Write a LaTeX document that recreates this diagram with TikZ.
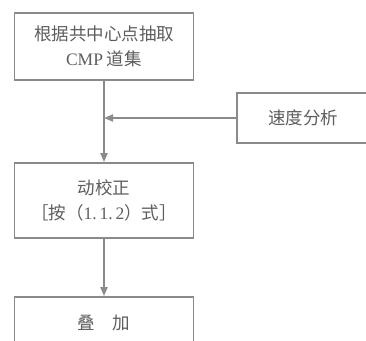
\documentclass[tikz,border=0pt]{standalone}
\usepackage{fontspec}
\setmainfont{Noto Sans CJK SC}
\newfontfamily\latserif{Liberation Serif}
\usetikzlibrary{arrows.meta}
\definecolor{linec}{HTML}{8A8A8A}
\definecolor{textc}{HTML}{5E5E5E}
\begin{document}
\begin{tikzpicture}[x=1pt,y=-1pt,
  box/.style={draw=linec,line width=1.8pt,fill=white,text=textc,align=center,
    font=\fontsize{17.5pt}{25pt}\selectfont,inner sep=0pt},
  conn/.style={draw=linec,line width=1.8pt,-{Triangle[length=9pt,width=7pt]}}]
\useasboundingbox (0,0) rectangle (366,340);
\clip (0,0) rectangle (366,340);
\fill[white] (0,0) rectangle (366,340);
\node[box,minimum width=179pt,minimum height=67pt] (cmp) at (104,46.5) {根据共中心点抽取\\{\latserif CMP} 道集};
\node[box,minimum width=132pt,minimum height=50pt] (vel) at (303,118) {速度分析};
\node[box,minimum width=179pt,minimum height=75pt] (nmo) at (104,200.5) {动校正\\［按（{\latserif 1.\,1.\,2}）式］};
\node[box,minimum width=179pt,minimum height=52pt] (stk) at (104,323) {叠\quad 加};
\coordinate (j) at (cmp.south |- vel.west);
\draw[conn] (cmp.south) -- (nmo.north);
\draw[conn] (vel.west) -- (j);
\draw[conn] (nmo.south) -- (stk.north);
\end{tikzpicture}
\end{document}
